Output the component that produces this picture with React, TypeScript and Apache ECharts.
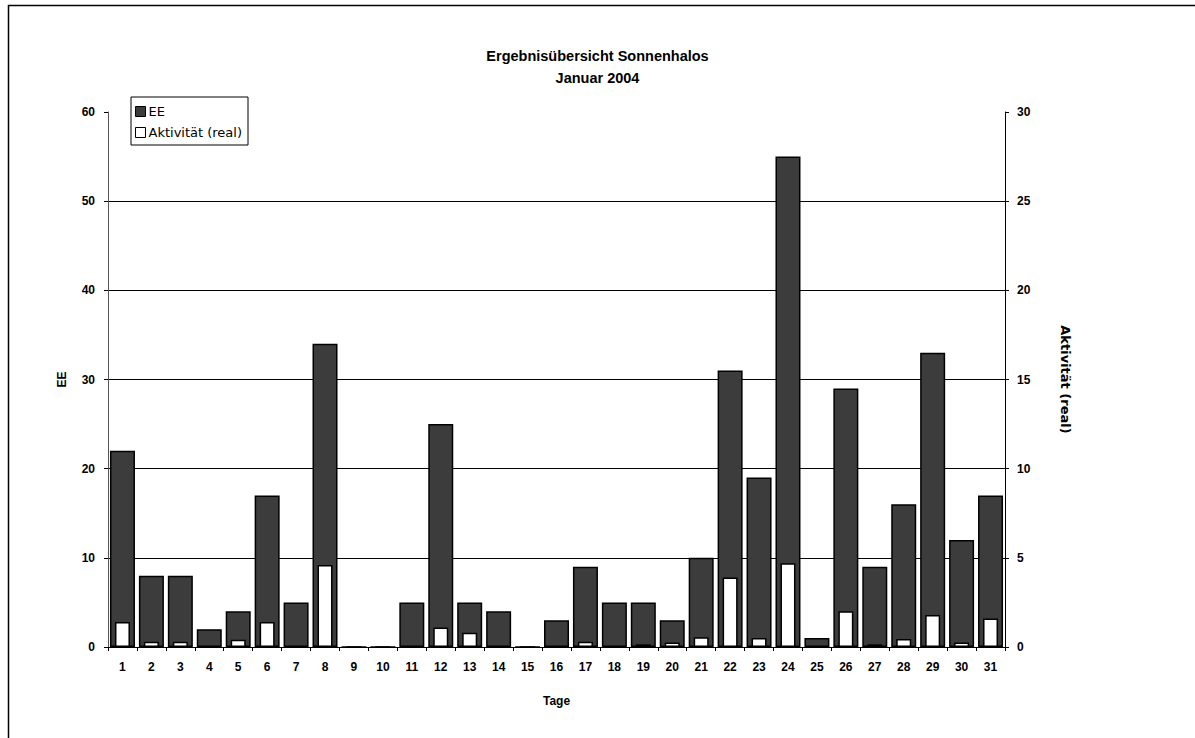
import React, { useEffect, useRef } from "react";
import * as echarts from "echarts";

const days = [
  "1","2","3","4","5","6","7","8","9","10","11","12","13","14","15","16",
  "17","18","19","20","21","22","23","24","25","26","27","28","29","30","31",
];
const eeValues = [22, 8, 8, 2, 4, 17, 5, 34, 0, 0, 5, 25, 5, 4, 0, 3, 9, 5, 5, 3, 10, 31, 19, 55, 1, 29, 9, 16, 33, 12, 17];
const aktivitaetValues = [1.4, 0.3, 0.3, 0, 0.4, 1.4, 0, 4.6, 0, 0, 0, 1.1, 0.8, 0, 0, 0, 0.3, 0, 0.15, 0.25, 0.55, 3.9, 0.5, 4.7, 0, 2.0, 0.15, 0.45, 1.8, 0.25, 1.6];

const titleLines = ["Ergebnisübersicht Sonnenhalos", "Januar 2004"];
const leftAxisName = "EE";
const rightAxisName = "Aktivität (real)";
const xAxisName = "Tage";

const FONT = "'Liberation Sans', Arial, sans-serif";
const WIDE = "'DejaVu Sans', Verdana, sans-serif";

export default function App() {
  const ref = useRef<HTMLDivElement>(null);
  useEffect(() => {
    if (!ref.current) return;
    const chart = echarts.init(ref.current, undefined, { renderer: "svg" });
    const labelStyle = { color: "#000", fontFamily: FONT, fontSize: 12, fontWeight: "bold" as const };
    chart.setOption({
      animation: false,
      backgroundColor: "#fff",
      title: {
        text: titleLines.join("\n"),
        left: "center",
        top: 40,
        textStyle: { color: "#000", fontFamily: FONT, fontSize: 14.5, fontWeight: "bold", lineHeight: 22 },
      },
      legend: {
        orient: "vertical",
        left: 131,
        top: 97,
        padding: [8, 6, 6, 4],
        itemGap: 8,
        itemWidth: 10,
        itemHeight: 10,
        borderColor: "#000",
        borderWidth: 1,
        textStyle: { color: "#000", fontFamily: WIDE, fontSize: 13, padding: [0, 0, 0, -2] },
        data: [
          { name: "EE", icon: "rect", itemStyle: { color: "#3c3c3c", borderColor: "#000", borderWidth: 1 } },
          { name: "Aktivität (real)", icon: "rect", itemStyle: { color: "#fff", borderColor: "#000", borderWidth: 1 } },
        ],
      },
      grid: { left: 108, top: 112, width: 897, height: 535, containLabel: false },
      xAxis: [
        {
          type: "category",
          data: days,
          name: xAxisName,
          nameLocation: "middle",
          nameGap: 48,
          nameTextStyle: labelStyle,
          axisLine: { lineStyle: { color: "#000", width: 1 } },
          axisTick: { show: true, length: 4, lineStyle: { color: "#000" } },
          axisLabel: { ...labelStyle, margin: 14 },
        },
        {
          type: "category",
          data: days,
          show: false,
        },
      ],
      yAxis: [
        {
          type: "value",
          min: 0,
          max: 60,
          interval: 10,
          name: leftAxisName,
          nameLocation: "middle",
          nameGap: 40,
          nameRotate: 90,
          nameTextStyle: labelStyle,
          axisLine: { show: true, lineStyle: { color: "#555", width: 1 } },
          axisTick: { show: true, length: 4, lineStyle: { color: "#000" } },
          axisLabel: { ...labelStyle, margin: 13 },
          splitLine: {
            show: true,
            lineStyle: { color: ["#000", "#000", "#000", "#000", "#000", "#000", "rgba(0,0,0,0)"], width: 1 },
          },
        },
        {
          type: "value",
          min: 0,
          max: 30,
          interval: 5,
          position: "right",
          name: rightAxisName,
          nameLocation: "middle",
          nameGap: 54,
          nameRotate: -90,
          nameTextStyle: { color: "#000", fontFamily: WIDE, fontSize: 13, fontWeight: "bold" },
          axisLine: { show: true, lineStyle: { color: "#000", width: 1 } },
          axisTick: { show: true, length: 4, lineStyle: { color: "#000" } },
          axisLabel: { ...labelStyle, margin: 12 },
          splitLine: { show: false },
        },
      ],
      series: [
        {
          name: "EE",
          type: "bar",
          xAxisIndex: 0,
          yAxisIndex: 0,
          data: eeValues,
          barWidth: 25,
          itemStyle: { color: "#3c3c3c", borderColor: "#000", borderWidth: 1.5 },
        },
        {
          name: "Aktivität (real)",
          type: "bar",
          xAxisIndex: 1,
          yAxisIndex: 1,
          data: aktivitaetValues,
          barWidth: 15,
          itemStyle: { color: "#fff", borderColor: "#000", borderWidth: 1.5 },
        },
      ],
      graphic: [
        {
          type: "rect",
          shape: { x: 8.5, y: 5.5, width: 1250, height: 760 },
          style: { fill: "none", stroke: "#000", lineWidth: 1.5 },
          silent: true,
        },
      ],
    });
    return () => chart.dispose();
  }, []);
  return (
    <div
      ref={ref}
      style={{ position: "fixed", left: 0, top: 0, width: 1195, height: 738 }}
    />
  );
}
